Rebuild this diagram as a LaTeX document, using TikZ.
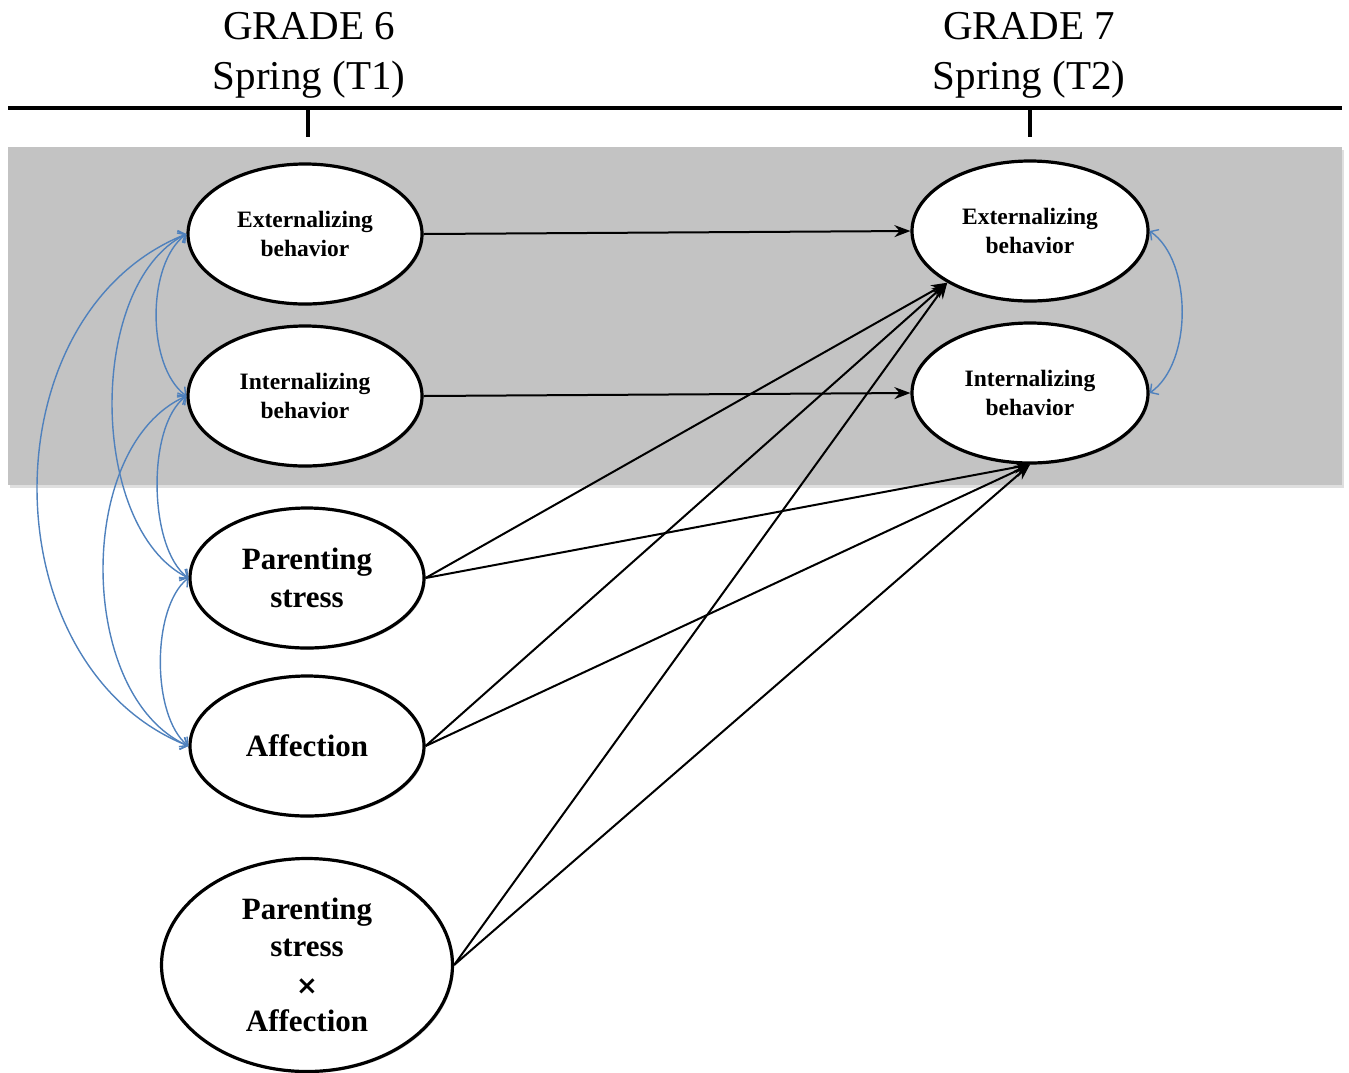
\documentclass[tikz,border=0pt]{standalone}
\usepackage{fontspec}
\setmainfont{Liberation Serif}
\newfontfamily\symfont{DejaVu Sans}
\usetikzlibrary{arrows.meta,shapes.geometric,shadows}
\definecolor{bggray}{RGB}{195,195,195}
\definecolor{corrblue}{RGB}{79,129,189}
\tikzset{
  var/.style={ellipse, draw=black, line width=3.2pt, fill=white, inner sep=0pt,
    align=center, minimum width=234pt, minimum height=140pt,
    drop shadow={opacity=0.45, shadow xshift=1.5pt, shadow yshift=-1.5pt}},
  smalltxt/.style={font=\bfseries\fontsize{23.5}{28.5}\selectfont},
  bigtxt/.style={font=\bfseries\fontsize{31}{37.5}\selectfont},
  title/.style={font=\fontsize{41}{50}\selectfont, align=center, inner sep=0pt},
  path/.style={draw=black, line width=2pt, -{Stealth[length=16pt,width=12pt]}},
  corr/.style={draw=corrblue, line width=1.4pt, {Straight Barb[length=6pt,width=13pt]}-{Straight Barb[length=6pt,width=13pt]}},
}
\begin{document}
\begin{tikzpicture}[x=1pt,y=-1pt]
\useasboundingbox (0,0) rectangle (1349,1072);
% background band
\fill[black!25, opacity=0.5] (10,150) rectangle (1344,488);
\fill[bggray] (8,147) rectangle (1342,485);
% titles
\node[title] (g6) at (309,55) {GRADE 6\\Spring (T1)};
\node[title] (g7) at (1029,55) {GRADE 7\\Spring (T2)};
% timeline
\coordinate (tl) at (8,108);
\coordinate (tr) at (1342,108);
\coordinate (t1) at (308,108);
\coordinate (t2) at (1030,108);
\draw[line width=3.5pt] (tl) -- (tr);
\draw[line width=3.5pt] (t1) -- ++(0,29);
\draw[line width=3.5pt] (t2) -- ++(0,29);
% nodes
\node[var, smalltxt] (ext1) at (305,234) {Externalizing\\behavior};
\node[var, smalltxt] (int1) at (305,396) {Internalizing\\behavior};
\node[var, bigtxt] (ps) at (307,578) {Parenting\\stress};
\node[var, bigtxt] (aff) at (307,746) {Affection};
\node[var, bigtxt, minimum width=291pt, minimum height=213pt] (psa) at (307,965) {Parenting\\stress\\{\symfont\bfseries\fontsize{26}{37.5}\selectfont ×}\\Affection};
\node[var, smalltxt, minimum width=236pt] (ext2) at (1030,231) {Externalizing\\behavior};
\node[var, smalltxt, minimum width=236pt] (int2) at (1030,393) {Internalizing\\behavior};
% paths
\draw[path] (ext1.east) -- (ext2.west);
\draw[path] (int1.east) -- (int2.west);
\draw[path] (ps.east) -- (ext2.212);
\draw[path] (ps.east) -- (int2.south);
\draw[path] (aff.east) -- (ext2.212);
\draw[path] (aff.east) -- (int2.south);
\draw[path] (psa.east) -- (ext2.212);
\draw[path] (psa.east) -- (int2.south);
% correlations
\draw[corr] (ext1.west) .. controls +(-40,30) and +(-40,-30) .. (int1.west);
\draw[corr] (ext1.west) .. controls +(-100,50) and +(-100,-50) .. (ps.west);
\draw[corr] (ext1.west) .. controls +(-200,80) and +(-200,-80) .. (aff.west);
\draw[corr] (int1.west) .. controls +(-40,30) and +(-40,-30) .. (ps.west);
\draw[corr] (int1.west) .. controls +(-112,50) and +(-112,-50) .. (aff.west);
\draw[corr] (ps.west) .. controls +(-37,30) and +(-37,-30) .. (aff.west);
\draw[corr] (ext2.east) .. controls +(43,30) and +(43,-30) .. (int2.east);
\end{tikzpicture}
\end{document}
